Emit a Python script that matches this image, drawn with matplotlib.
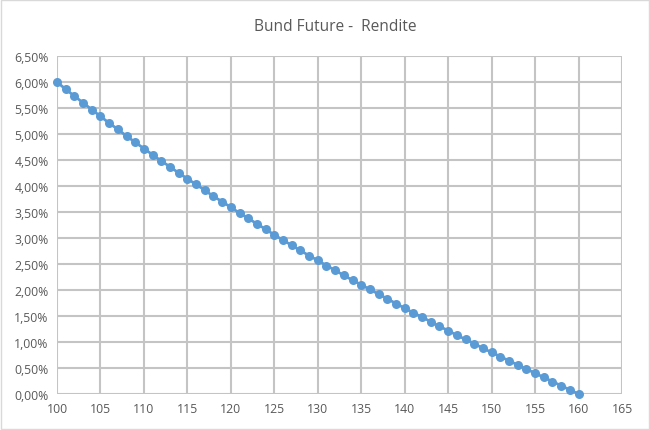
import matplotlib
matplotlib.use("Agg")
import matplotlib.pyplot as plt
from matplotlib.ticker import FuncFormatter, MultipleLocator
from matplotlib.patches import Rectangle

# price of the Bund Future and the matching yield (in %)
kurs = list(range(100, 161))
rendite = [6.00, 5.86, 5.73, 5.60, 5.47, 5.34,
           5.21, 5.09, 4.96, 4.84, 4.72,
           4.60, 4.48, 4.37, 4.25, 4.14,
           4.03, 3.92, 3.80, 3.70, 3.59,
           3.48, 3.38, 3.27, 3.17, 3.06,
           2.96, 2.86, 2.76, 2.66, 2.57,
           2.47, 2.38, 2.28, 2.19, 2.10,
           2.01, 1.92, 1.83, 1.74, 1.65,
           1.56, 1.48, 1.39, 1.30, 1.22,
           1.13, 1.05, 0.97, 0.88, 0.80,
           0.72, 0.64, 0.56, 0.48, 0.40,
           0.32, 0.24, 0.16, 0.08, 0.00]

plt.rcParams['font.family'] = ['Open Sans', 'DejaVu Sans']
grau = '#595959'

fig = plt.figure(figsize=(6.5, 4.31), dpi=100)
ax = fig.add_axes([57/650, 36/431, 565/650, 338/431])

ax.plot(kurs, rendite, color='#5b9bd5', lw=2, marker='o', ms=6.5,
        markeredgewidth=0, zorder=3, clip_on=False)

ax.set_xlim(100, 165)
ax.set_ylim(0, 6.5)
ax.xaxis.set_major_locator(MultipleLocator(5))
ax.yaxis.set_major_locator(MultipleLocator(0.5))
ax.yaxis.set_major_formatter(FuncFormatter(lambda v, p: f"{v:.2f}%".replace('.', ',')))
ax.grid(True, color='#c4c4c4', lw=1.5)
ax.set_axisbelow(True)
for s in ax.spines.values():
    s.set_visible(False)
ax.tick_params(length=0, colors=grau, labelsize=8.8, pad=6)

fig.suptitle('Bund Future -  Rendite', y=0.957, x=0.515, fontsize=11.2, color=grau)
fig.patches.append(Rectangle((0.002, 0.002), 0.996, 0.995, transform=fig.transFigure,
                             fill=False, edgecolor='#d9d9d9', lw=1))

plt.savefig('out.png', dpi=100)
